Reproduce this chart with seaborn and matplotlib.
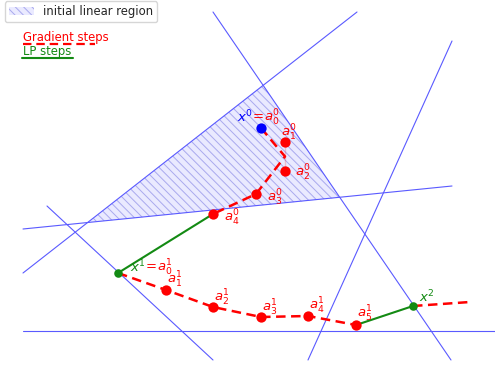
import matplotlib
matplotlib.use("Agg")
import matplotlib.pyplot as plt
import numpy as np
import seaborn as sns
from matplotlib.patches import Polygon, Patch

sns.set_theme(style="white")
plt.rcParams["font.family"] = ["DejaVu Sans"]
plt.rcParams["hatch.color"] = "#a9a9ee"
plt.rcParams["hatch.linewidth"] = 0.7

# Hyperplanes (each as two end points, screen-like coordinates, y grows downward)
planes_x0 = [213, 23, 23, 308, 47, 23]
planes_y0 = [12, 273, 229, 360, 206, 331]
planes_x1 = [451, 357, 452, 452, 213, 495]
planes_y1 = [360, 12, 186, 41, 360, 331]

# Initial linear region (bounded by the first three planes)
region_x = [88, 263, 340]
region_y = [222.5, 85, 197.5]

# Gradient steps from x^0
grad0_x = [261, 285, 285, 256, 213]
grad0_y = [128, 142, 171, 194, 214]
grad0_lab = ["", "$a^0_1$", "$a^0_2$", "$a^0_3$", "$a^0_4$"]

# Gradient steps from x^1
grad1_x = [118, 166, 213, 261, 308, 356]
grad1_y = [273, 290, 307, 317, 316, 325]
grad1_lab = ["", "$a^1_1$", "$a^1_2$", "$a^1_3$", "$a^1_4$", "$a^1_5$"]

# Gradient direction after x^2
grad2_x = [413, 470]
grad2_y = [306, 302]

# LP steps
lp_x = [[213, 118], [356, 413]]
lp_y = [[214, 273], [325, 306]]

fig = plt.figure(figsize=(4.95, 3.67), dpi=100)
ax = fig.add_axes([0, 0, 1, 1])
ax.set_xlim(0, 495)
ax.set_ylim(367, 0)
ax.axis("off")

region_face = (0.6, 0.6, 1.0, 0.2)
hatch = "\\" * 4
poly = Polygon(np.column_stack([region_x, region_y]), closed=True,
               facecolor=region_face, edgecolor="#a9a9ee",
               linewidth=0, hatch=hatch, zorder=1)
ax.add_patch(poly)

for xa, ya, xb, yb in zip(planes_x0, planes_y0, planes_x1, planes_y1):
    sns.lineplot(x=[xa, xb], y=[ya, yb], ax=ax, color="#5a5aff",
                 linewidth=0.8, sort=False, zorder=2)

red = "#ff0000"
green = "#138a13"
dash = (3.8, 2.2)

for gx, gy in [(grad0_x, grad0_y), (grad1_x, grad1_y), (grad2_x, grad2_y)]:
    sns.lineplot(x=gx, y=gy, ax=ax, color=red, linewidth=1.8,
                 sort=False, zorder=3).lines[-1].set_dashes(dash)

for lx, ly in zip(lp_x, lp_y):
    sns.lineplot(x=lx, y=ly, ax=ax, color=green, linewidth=1.5,
                 sort=False, zorder=3)

sns.scatterplot(x=grad0_x[1:] + grad1_x[1:], y=grad0_y[1:] + grad1_y[1:],
                ax=ax, color=red, s=55, linewidth=0, zorder=5)
sns.scatterplot(x=[grad0_x[0]], y=[grad0_y[0]], ax=ax, color="blue",
                s=55, linewidth=0, zorder=5)
sns.scatterplot(x=[grad1_x[0], grad2_x[0]], y=[grad1_y[0], grad2_y[0]],
                ax=ax, color=green, s=38, linewidth=0, zorder=5)

fs = 9.5
# label offsets of the text baseline from each point
offs0 = [None, (-4, -5), (10, 6), (11, 8), (11, 8)]
for x, y, lab, off in zip(grad0_x, grad0_y, grad0_lab, offs0):
    if lab:
        ax.text(x + off[0], y + off[1], lab, color=red, fontsize=fs,
                ha="left", va="baseline", zorder=6)
offs1 = [None, (1, -6), (1, -5), (1, -5), (1, -6), (1, -7)]
for x, y, lab, off in zip(grad1_x, grad1_y, grad1_lab, offs1):
    if lab:
        ax.text(x + off[0], y + off[1], lab, color=red, fontsize=fs,
                ha="left", va="baseline", zorder=6)

ax.text(grad0_x[0] - 24, grad0_y[0] - 6, "$x^0$", color="blue", fontsize=fs,
        ha="left", va="baseline", zorder=6)
ax.text(grad0_x[0] - 11, grad0_y[0] - 6, "$=\\!a^0_0$", color=red,
        fontsize=fs, ha="left", va="baseline", zorder=6)
ax.text(grad1_x[0] + 12, grad1_y[0] - 1, "$x^1$", color=green, fontsize=fs,
        ha="left", va="baseline", zorder=6)
ax.text(grad1_x[0] + 25, grad1_y[0] - 1, "$=\\!a^1_0$", color=red,
        fontsize=fs, ha="left", va="baseline", zorder=6)
ax.text(grad2_x[0] + 6, grad2_y[0] - 4, "$x^2$", color=green, fontsize=fs,
        ha="left", va="baseline", zorder=6)

handle = Patch(facecolor=region_face, edgecolor="#a9a9ee",
               linewidth=0, hatch=hatch)
ax.legend([handle], ["initial linear region"], loc="upper left",
          bbox_to_anchor=(0.008, 1.0), fontsize=8.4, frameon=True,
          handlelength=2.1, handletextpad=0.8, borderaxespad=0.1,
          borderpad=0.35)

ax.text(23, 37, "Gradient steps", color=red, fontsize=8.4, va="center",
        ha="left")
ax.plot([23, 95], [44, 44], color=red, linewidth=1.6, dashes=dash)
ax.text(23, 51, "LP steps", color=green, fontsize=8.4, va="center",
        ha="left")
ax.plot([22, 73], [58, 58], color=green, linewidth=1.5)

fig.savefig("out.png", dpi=100)
